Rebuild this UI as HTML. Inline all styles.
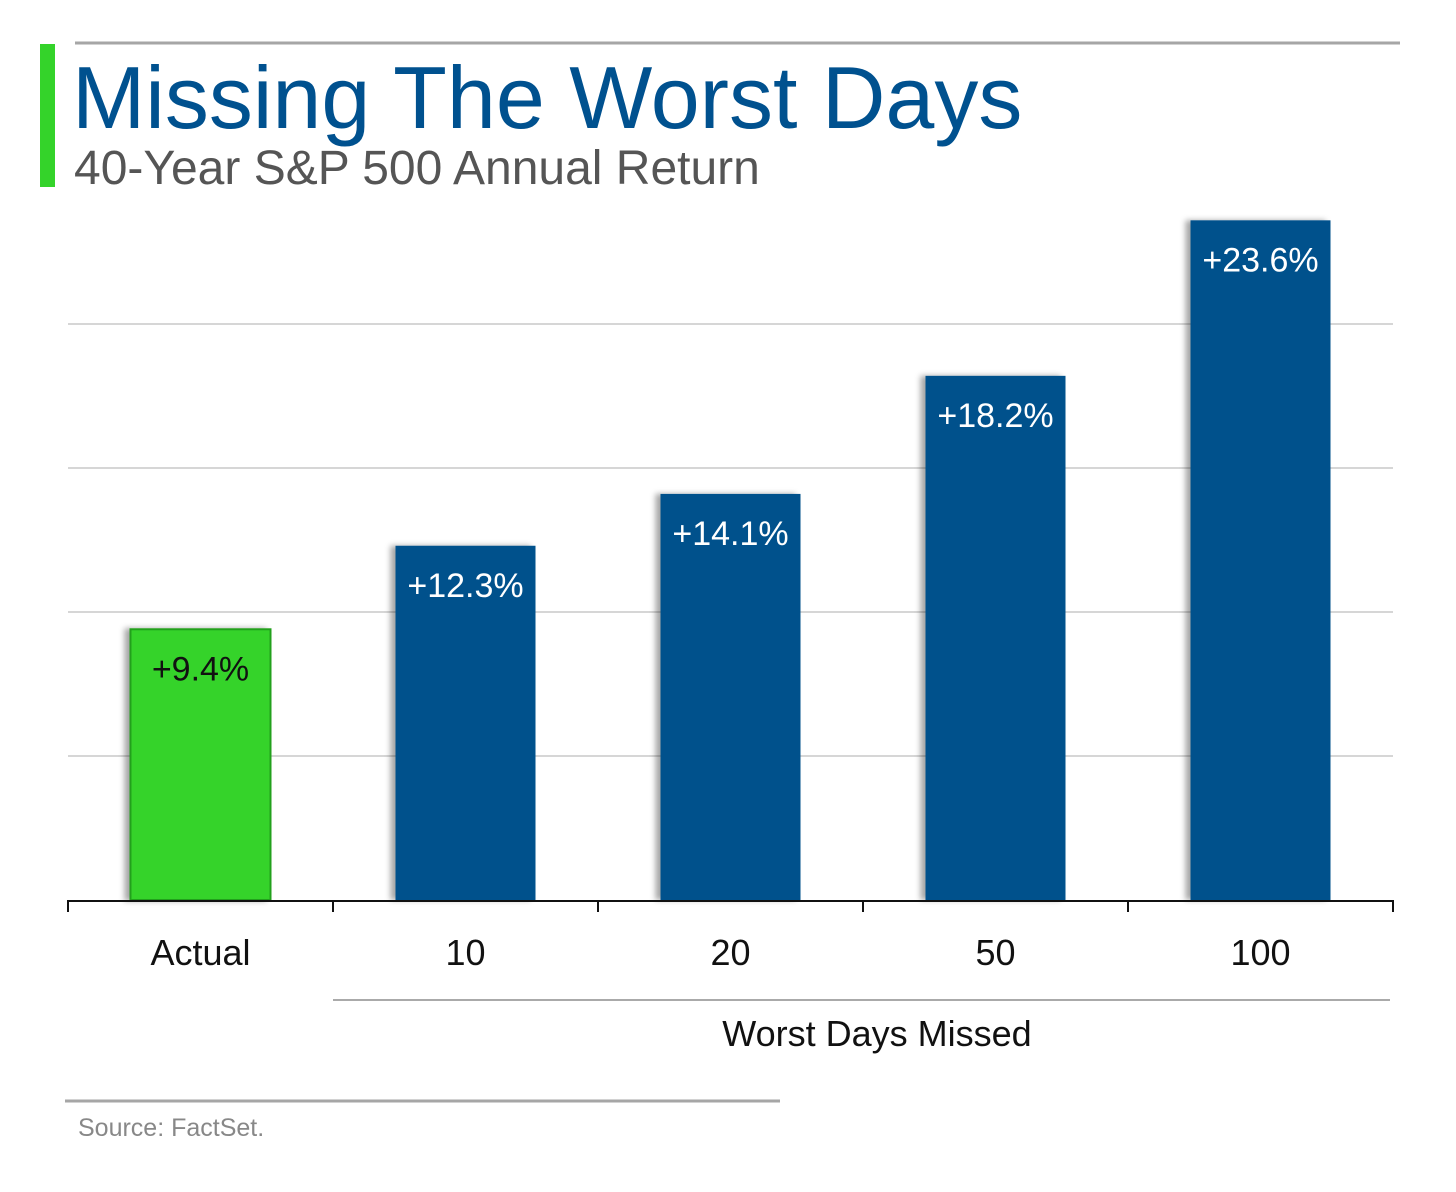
<!DOCTYPE html>
<html><head><meta charset="utf-8"><style>
body{margin:0;background:#fff;font-family:"Liberation Sans",sans-serif}
#c{position:relative;width:1456px;height:1192px;overflow:hidden}
</style></head><body><div id="c">
<svg width="1456" height="1192" xmlns="http://www.w3.org/2000/svg">
<defs><filter id="sh" x="-20%" y="-10%" width="140%" height="120%"><feDropShadow dx="-5" dy="0" stdDeviation="3" flood-color="#000" flood-opacity="0.35"/></filter></defs>
<rect x="40" y="44" width="15" height="143" fill="#34d32a"/>
<line x1="75" y1="43" x2="1400" y2="43" stroke="#a6a6a6" stroke-width="3"/>
<text x="72" y="128" font-size="88" fill="#00518f">Missing The Worst Days</text>
<text x="74" y="184" font-size="48" fill="#555">40-Year S&amp;P 500 Annual Return</text>
<g id="grid"></g><g id="bars"></g><g id="axis"></g>
<line x1="333" y1="1000" x2="1390" y2="1000" stroke="#aaa" stroke-width="2"/>
<text x="877" y="1046" font-size="36" text-anchor="middle" fill="#111">Worst Days Missed</text>
<line x1="65" y1="1101" x2="780" y2="1101" stroke="#a6a6a6" stroke-width="3"/>
<text x="78" y="1136" font-size="25" fill="#888">Source: FactSet.</text>
</svg></div>
<script>
const categories=["Actual","10","20","50","100"];
const values=[9.4,12.3,14.1,18.2,23.6];
const valueLabels=["+9.4%","+12.3%","+14.1%","+18.2%","+23.6%"];
const gridTicks=[5,10,15,20];
const NS="http://www.w3.org/2000/svg";
const x0=68,x1=1393,base=900,pxPer=28.8,bw=140;
const band=(x1-x0)/categories.length;
const y=v=>base-v*pxPer;
const xc=i=>x0+band*(i+0.5);
function mk(t,a){const e=document.createElementNS(NS,t);for(const k in a)e.setAttribute(k,a[k]);return e;}
const g=document.getElementById('grid'),b=document.getElementById('bars'),ax=document.getElementById('axis');
gridTicks.forEach(t=>{const l=mk('line',{x1:x0,x2:x1,y1:y(t),y2:y(t),stroke:'#c8c8c8','stroke-width':1.5});

g.appendChild(l);});
values.forEach((v,i)=>{const green=i===0;
const r=mk('rect',{x:xc(i)-bw/2,y:y(v),width:bw,height:v*pxPer,fill:green?'#34d32a':'#00518c',stroke:green?'#21a01a':'none','stroke-width':2,filter:'url(#sh)'});

b.appendChild(r);
const t=mk('text',{x:xc(i),y:y(v)+51,'font-size':34,'text-anchor':'middle',fill:green?'#111':'#fff'});
t.textContent=valueLabels[i];

b.appendChild(t);
const c=mk('text',{x:xc(i),y:965,'font-size':36,'text-anchor':'middle',fill:'#111'});
c.textContent=categories[i];

ax.appendChild(c);});
const bl=mk('line',{x1:x0,x2:x1,y1:base+1,y2:base+1,stroke:'#111','stroke-width':2});

ax.appendChild(bl);
for(let i=0;i<=categories.length;i++){const tk=mk('line',{x1:x0+band*i,x2:x0+band*i,y1:base,y2:base+12,stroke:'#111','stroke-width':2});

ax.appendChild(tk);}
</script></body></html>
